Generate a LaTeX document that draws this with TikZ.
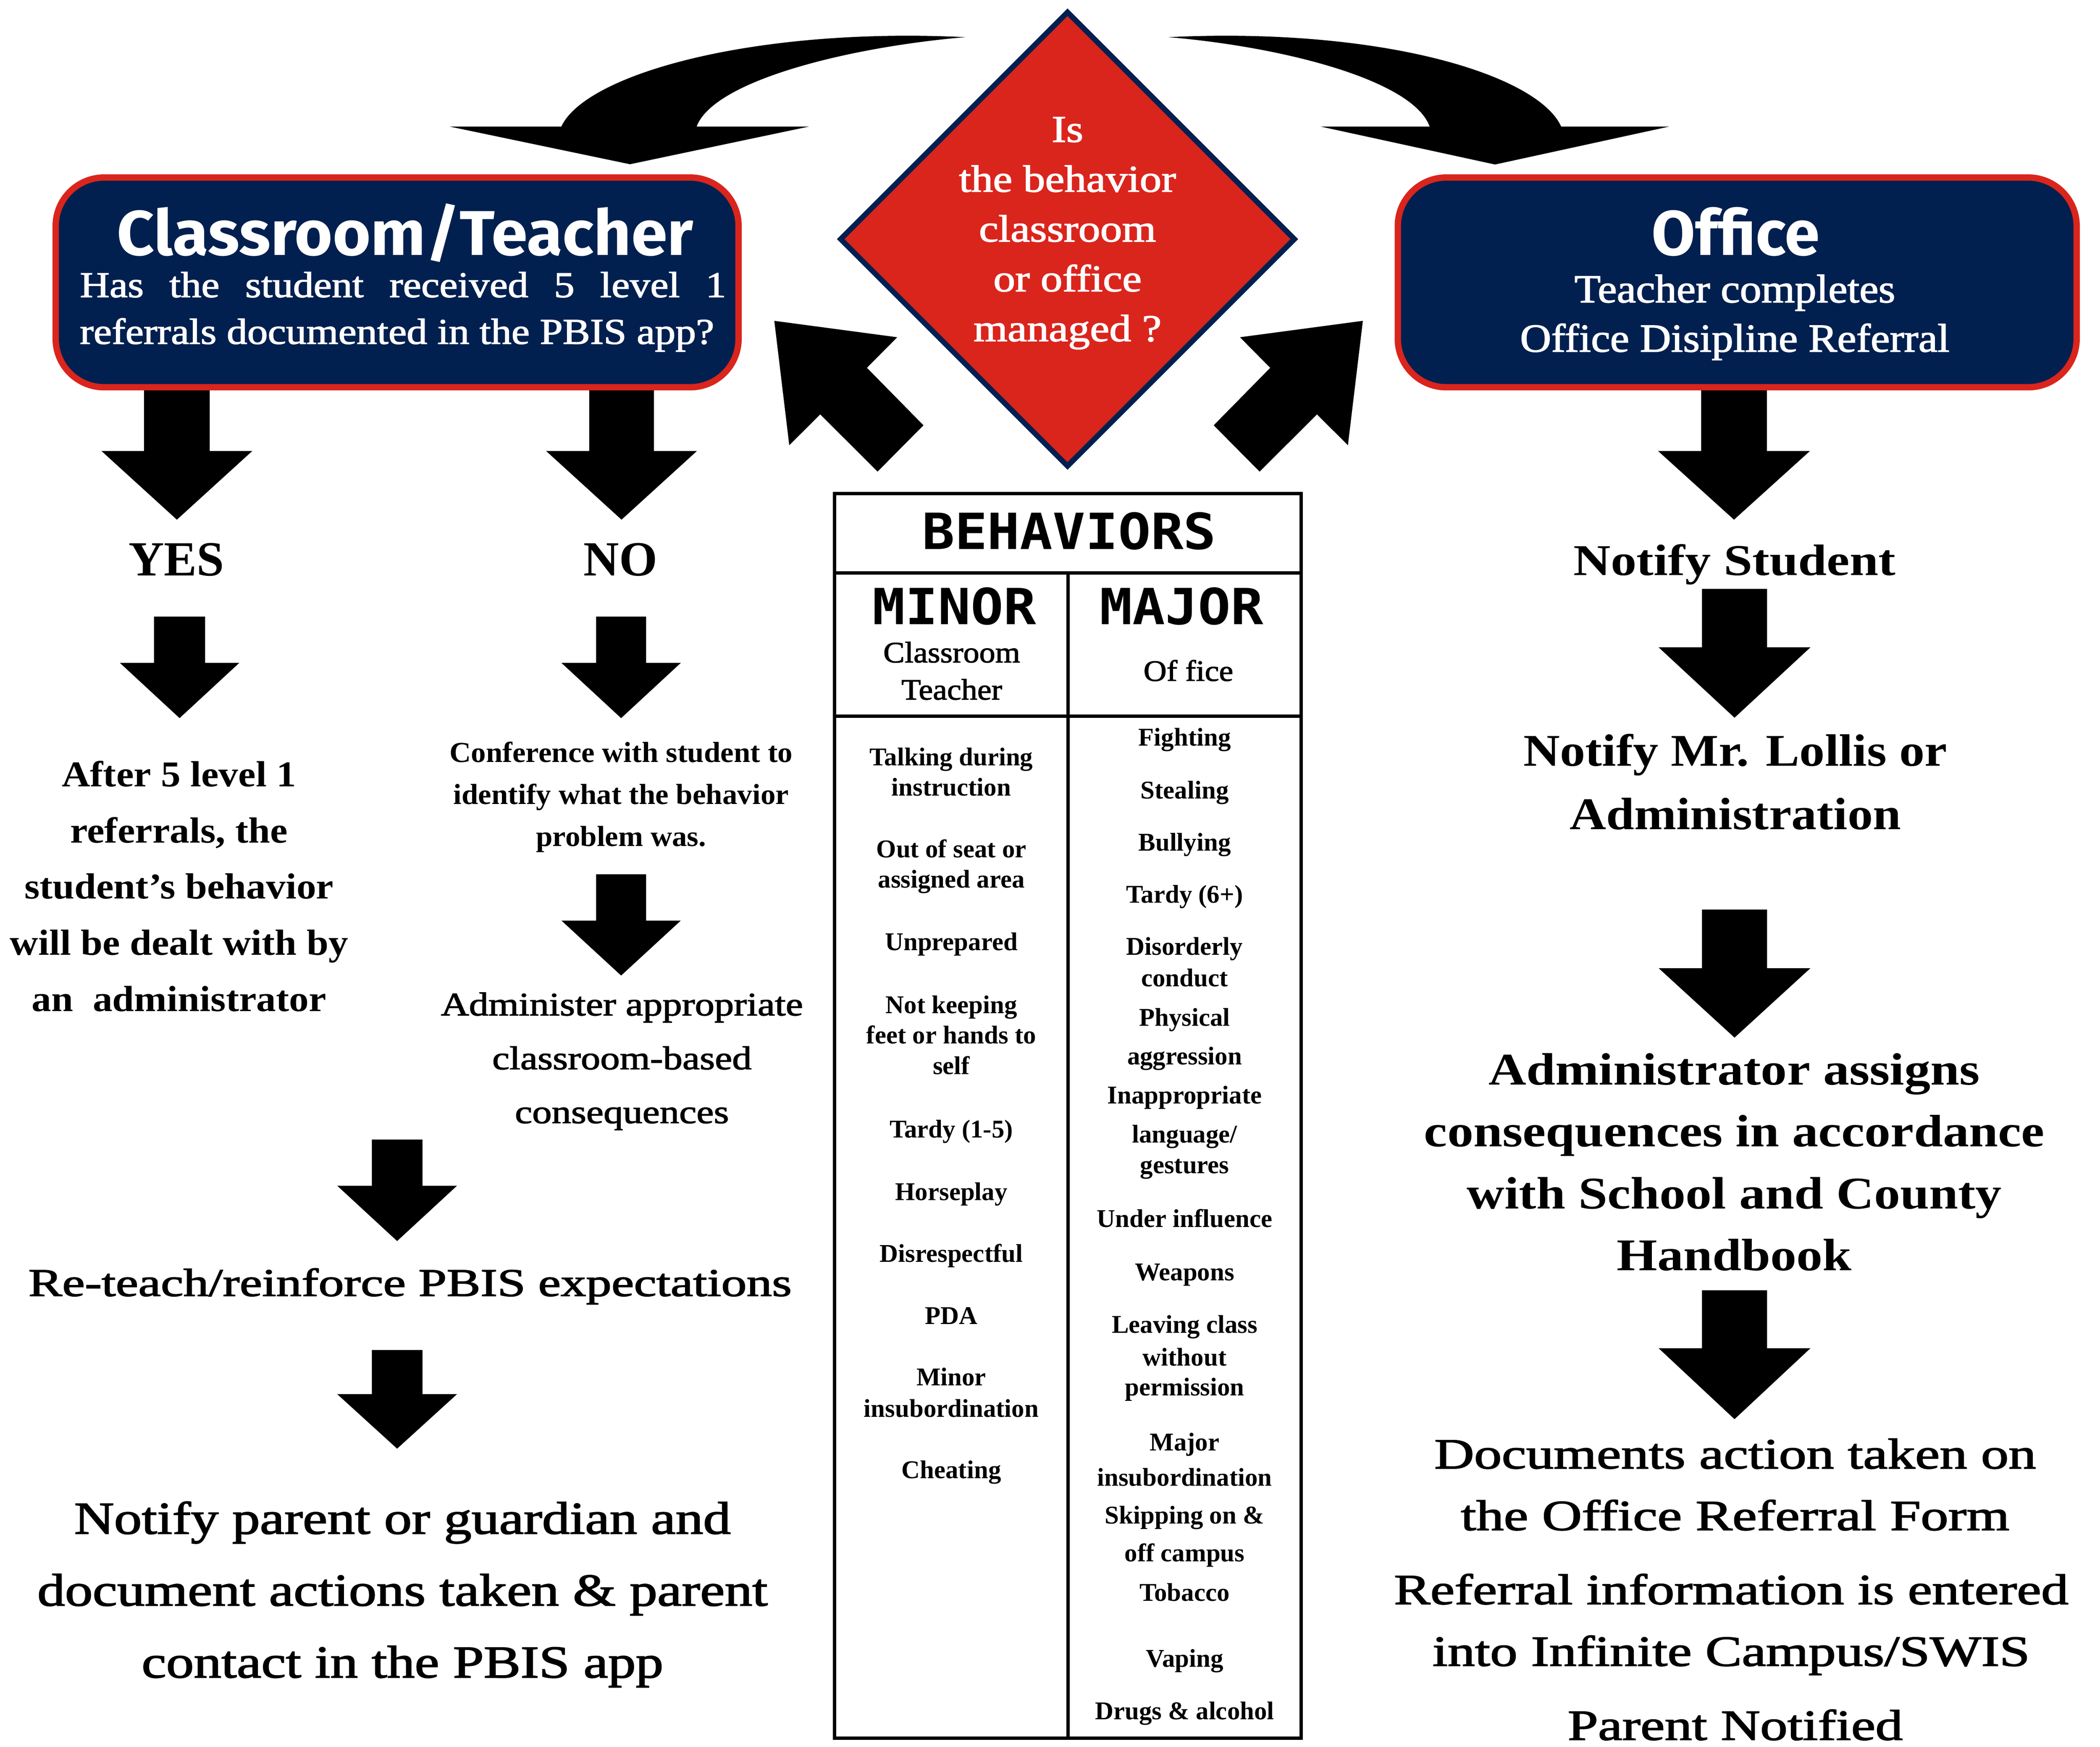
\documentclass[tikz,border=0pt]{standalone}
\usepackage{fontspec}
\usepackage{graphicx}
\setmainfont{Liberation Serif}
\newfontfamily\medserif{Liberation Serif}[FakeBold=1.8]
\newfontfamily\hdsans{Fira Sans}
\newfontfamily\hdmono{DejaVu Sans Mono}
\definecolor{navy}{HTML}{02204F}
\definecolor{pbisred}{HTML}{DA251D}
\newcommand{\stk}[2]{\scalebox{#1}[1]{\begin{tabular}[b]{@{}c@{}}#2\end{tabular}}}
\newcommand{\bdown}[6]{%
  \fill ({#1-#3},#2) -- ({#1+#3},#2) -- ({#1+#3},#4) -- ({#1+#5},#4) -- (#1,#6) -- ({#1-#5},#4) -- ({#1-#3},#4) -- cycle;}
\tikzset{
  txt/.style={inner sep=0pt, outer sep=0pt, anchor=base},
  wtxt/.style={txt, text=white},
  signbox/.style={draw=pbisred, fill=navy, line width=4.7pt, rounded corners=36pt, minimum height=155.8pt, inner sep=0pt},
  tline/.style={line width=2.6pt, line cap=rect},
  item/.style={txt, font=\bfseries\fontsize{19}{22}\selectfont},
}
\begin{document}
\begin{tikzpicture}[x=1pt,y=-1pt]
\useasboundingbox (0,0) rectangle (1560,1297.5);
\fill[white] (0,0) rectangle (1560,1297.5);

% curved arrows at top
\fill (417,94) .. controls (435,55) and (560,20) .. (717,27.6) .. controls (630,35) and (530,60) .. (517.5,94) -- (601,94) -- (468,122) -- (334,94) -- cycle;
\fill (1159.7,94) .. controls (1142,55) and (1025,20) .. (868,27.6) .. controls (955,35) and (1050,60) .. (1062,94) -- (981,94) -- (1110.6,122.2) -- (1240,94) -- cycle;

% diagonal arrows
\fill (575.2,238.3) -- (666.5,250.5) -- (644,273.2) -- (686,315.9) -- (651.9,350.3) -- (609.3,307.8) -- (586.3,330.7) -- cycle;
\fill (1012.4,238.3) -- (921.1,250.5) -- (943.6,273.2) -- (901.6,315.9) -- (935.7,350.3) -- (978.3,307.8) -- (1001.3,330.7) -- cycle;

% diamond
\coordinate (dia) at (793,177.6);
\draw[fill=pbisred, draw=navy, line width=4pt, line join=miter] (793,9.1) -- (961.5,177.6) -- (793,346.1) -- (624.5,177.6) -- cycle;
\node[wtxt, font=\medserif\fontsize{28.2}{37}\selectfont] (dtext) at (793,253.4) {\stk{1.15}{Is\\the behavior\\classroom\\or office\\managed ?}};

% block arrows
\bdown{131.4}{285}{24.4}{335}{56}{386}
\bdown{461.7}{285}{24}{335}{56}{386}
\bdown{1288.1}{285}{24.4}{335}{56.4}{386}
\bdown{133.4}{458}{19}{492.4}{44.3}{533.4}
\bdown{461.4}{458}{18.6}{492.4}{44.3}{533.4}
\bdown{461.4}{649.4}{18.6}{683.8}{44.3}{724.6}
\bdown{295}{846.4}{18.8}{880.7}{44.5}{921.8}
\bdown{295}{1002.7}{18.8}{1035.5}{44.5}{1076}
\bdown{1288.5}{437.4}{24.2}{480.8}{56.4}{533.1}
\bdown{1288.5}{675.6}{24.2}{719.1}{56.4}{770.7}
\bdown{1288.5}{958.3}{24.2}{1001.4}{56.4}{1054.1}

% sign boxes
\node[signbox, minimum width=507.3pt] (ctbox) at (295,209.75) {};
\node[signbox, minimum width=504.3pt] (ofbox) at (1290.5,209.75) {};
\node[wtxt, font=\hdsans\bfseries\fontsize{47}{50}\selectfont] (cthead) at (301,189.6) {\scalebox{1.03}[1]{Classroom/Teacher}};
\node[wtxt, anchor=base west, font=\medserif\fontsize{27}{30}\selectfont] (ctq1) at (59.4,220.7) {\scalebox{1.128}[1]{\makebox[425.5pt][s]{Has the student received 5 level 1}}};
\node[wtxt, anchor=base west, font=\medserif\fontsize{27}{30}\selectfont] (ctq2) at (59.4,255.4) {\scalebox{1.128}[1]{referrals documented in the PBIS app?}};
\node[wtxt, font=\hdsans\bfseries\fontsize{47}{50}\selectfont] (ofhead) at (1289.3,189.6) {Office};
\node[wtxt, font=\medserif\fontsize{29.6}{36.6}\selectfont] (ofsub) at (1288.7,261.2) {\stk{1.08}{Teacher completes\\Office Disipline Referral}};

% left column
\node[txt, font=\bfseries\fontsize{36.5}{40}\selectfont] (yes) at (131,427.7) {YES};
\node[txt, font=\bfseries\fontsize{36.5}{40}\selectfont] (no) at (461,427.7) {NO};
\node[txt, font=\bfseries\fontsize{27}{41.7}\selectfont] (after) at (133,751) {\stk{1.08}{After 5 level 1\\referrals, the\\student's behavior\\will be dealt with by\\an~~administrator}};
\node[txt, font=\bfseries\fontsize{21.5}{31.3}\selectfont] (conf) at (461.4,628.6) {\stk{1.03}{Conference with student to\\identify what the behavior\\problem was.}};
\node[txt, font=\medserif\fontsize{24.5}{40}\selectfont] (admin) at (462,834.2) {\stk{1.18}{Administer appropriate\\classroom-based\\consequences}};
\node[txt, font=\medserif\fontsize{29.2}{32}\selectfont] (reteach) at (304.6,962.6) {\scalebox{1.29}[1]{Re-teach/reinforce PBIS expectations}};
\node[txt, font=\medserif\fontsize{34}{53.4}\selectfont] (nparent) at (299,1246) {\stk{1.207}{Notify parent or guardian and\\document actions taken \& parent\\contact in the PBIS app}};

% right column
\node[txt, font=\bfseries\fontsize{32.7}{36}\selectfont] (nstudent) at (1288.6,427.4) {\scalebox{1.17}[1]{Notify Student}};
\node[txt, font=\bfseries\fontsize{33.7}{47.2}\selectfont] (nlollis) at (1289.1,616) {\stk{1.114}{Notify Mr. Lollis or\\Administration}};
\node[txt, font=\bfseries\fontsize{33.7}{46}\selectfont] (assigns) at (1288.3,943.7) {\stk{1.15}{Administrator assigns\\consequences in accordance\\with School and County\\Handbook}};
\node[txt, font=\medserif\fontsize{32}{45.8}\selectfont] (documents) at (1289,1136.5) {\stk{1.28}{Documents action taken on\\the Office Referral Form}};
\node[txt, font=\medserif\fontsize{32}{45.8}\selectfont] (referral) at (1286,1237.3) {\stk{1.267}{Referral information is entered\\into Infinite Campus/SWIS}};
\node[txt, font=\medserif\fontsize{32}{45.8}\selectfont] (pnotified) at (1289,1292.3) {\scalebox{1.267}[1]{Parent Notified}};

% behaviors table
\node[draw, line width=2.6pt, minimum width=346.5pt, minimum height=924.5pt, inner sep=0pt] (tbl) at (793.25,828.75) {};
\coordinate (rowA-l) at (620,425.5);
\coordinate (rowA-r) at (966.5,425.5);
\coordinate (rowB-l) at (620,532);
\coordinate (rowB-r) at (966.5,532);
\coordinate (col-t) at (793.5,425.5);
\coordinate (col-b) at (793.5,1291);
\draw[tline] (rowA-l) -- (rowA-r);
\draw[tline] (rowB-l) -- (rowB-r);
\draw[tline] (col-t) -- (col-b);
\node[txt, font=\hdmono\bfseries\fontsize{37}{40}\selectfont] (beh) at (794.2,407.9) {\scalebox{1.09}[1]{BEHAVIORS}};
\node[txt, font=\hdmono\bfseries\fontsize{37}{40}\selectfont] (minor) at (709,463.8) {\scalebox{1.09}[1]{MINOR}};
\node[txt, font=\hdmono\bfseries\fontsize{37}{40}\selectfont] (major) at (877.8,463.8) {\scalebox{1.09}[1]{MAJOR}};
\node[txt, font=\medserif\fontsize{22}{27.6}\selectfont] (clt) at (707,519.6) {\stk{1.08}{Classroom\\Teacher}};
\node[txt, font=\medserif\fontsize{22}{27.6}\selectfont] (offc) at (882.8,505.7) {\scalebox{1.08}[1]{Of fice}};

\foreach \yy/\lbl [count=\i] in {568.5/{Talking during},591.2/{instruction},636.8/{Out of seat or},659.3/{assigned area},706/{Unprepared},752.8/{Not keeping},775.3/{feet or hands to},798/{self},845/{Tardy (1-5)},891.4/{Horseplay},937.5/{Disrespectful},983.5/{PDA},1029.2/{Minor},1052.4/{insubordination},1098.1/{Cheating}}
  \node[item] (mn\i) at (706.7,\yy) {\lbl};

\foreach \yy/\lbl [count=\i] in {554.1/{Fighting},593.2/{Stealing},631.8/{Bullying},670.7/{Tardy (6+)},709.3/{Disorderly},732.8/{conduct},762.2/{Physical},790.7/{aggression},819.7/{Inappropriate},848.9/{language/},871.6/{gestures},911.5/{Under influence},951/{Weapons},990/{Leaving class},1014.5/{without},1036.5/{permission},1077.6/{Major},1103.7/{insubordination},1131.8/{Skipping on \&},1160/{off campus},1189.3/{Tobacco},1238.2/{Vaping},1277.3/{Drugs \& alcohol}}
  \node[item] (mj\i) at (880,\yy) {\lbl};
\end{tikzpicture}
\end{document}
